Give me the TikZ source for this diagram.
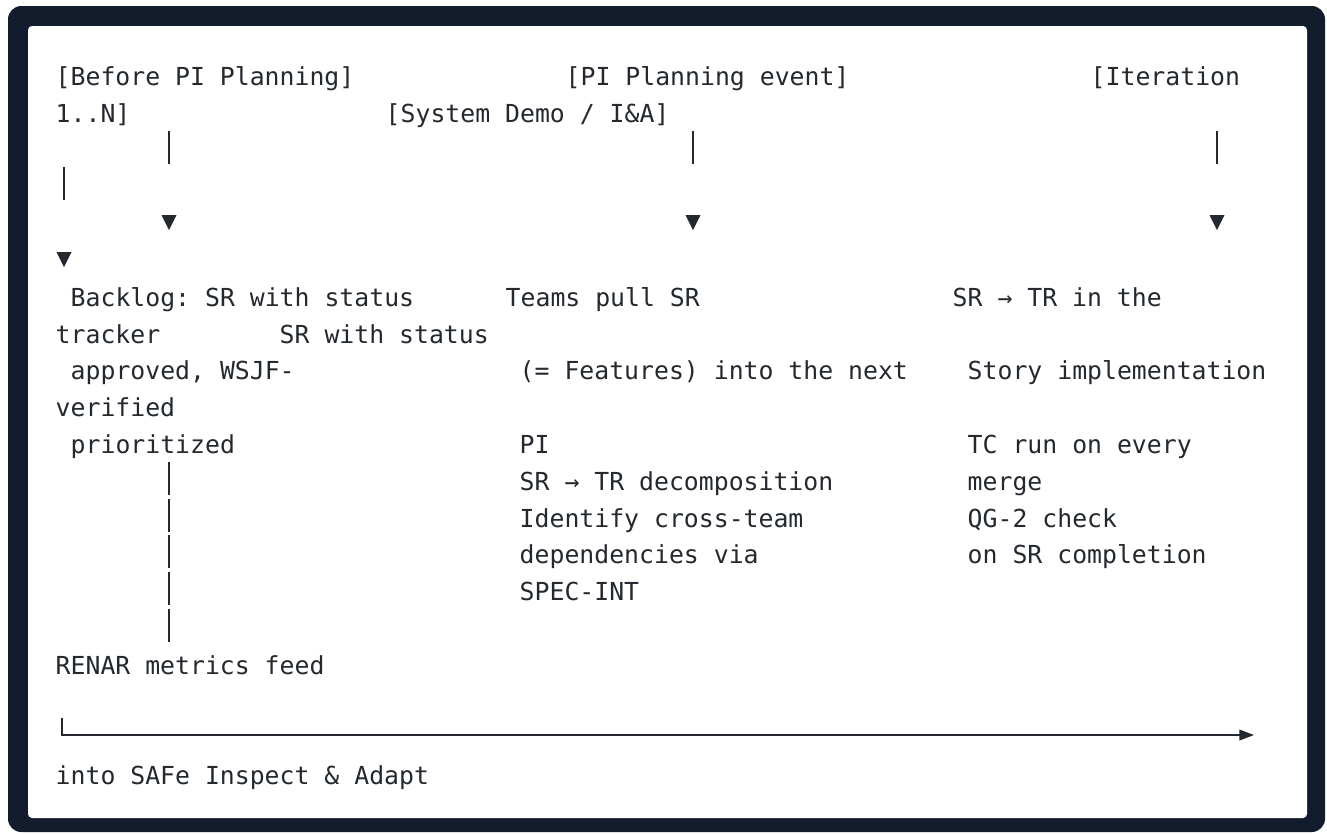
\documentclass[tikz,border=0pt]{standalone}
\usepackage{fontspec}
\setmonofont{DejaVu Sans Mono}
\usetikzlibrary{arrows.meta}

\definecolor{frame}{HTML}{131C2C}
\definecolor{ink}{HTML}{24292F}

\begin{document}
\begin{tikzpicture}[x=0.75pt,y=-0.75pt,line width=1.1pt,
                    >={Triangle[length=11pt,width=8pt]}]
  \tikzstyle{txt}=[anchor=base west,inner sep=0pt,text=ink,
                   font=\ttfamily\fontsize{18.6}{22}\selectfont]
  \tikzstyle{bar}=[draw=ink,line width=1.1pt]

  \useasboundingbox (0,0) rectangle (1327,833);
  \fill[frame,rounded corners=10pt] (8,6) rectangle (1325,832);
  \fill[white,rounded corners=3pt] (28,26) rectangle (1307,818);

  % phase headings
  \node[txt] (before) at (55,85)    {[Before PI Planning]};
  \node[txt] (pip)    at (565,85)   {[PI Planning event]};
  \node[txt] (iter)   at (1090,85)  {[Iteration};
  \node[txt] (itern)  at (55,122)   {1..N]};
  \node[txt] (demo)   at (385,122)  {[System Demo / I\&A]};

  % down strokes and heads
  \foreach \x/\b in {169/158.6, 693/158.6, 1217/158.6, 64/195.4,
                     169/489.8, 169/526.6, 169/563.4, 169/600.2, 169/637}
    \draw[bar] (\x,\b-28) -- (\x,\b+5);
  \foreach \x/\b in {169/232.2, 693/232.2, 1217/232.2, 64/269}
    \fill[ink] (\x-7.5,\b-17) -- (\x+7.5,\b-17) -- (\x,\b-2) -- cycle;

  % backlog column
  \node[txt] (bl1) at (70,306)  {Backlog: SR with status};
  \node[txt] (bl2) at (55,343)  {tracker};
  \node[txt] (bl3) at (279,343) {SR with status};
  \node[txt] (bl4) at (70,379)  {approved, WSJF-};
  \node[txt] (bl5) at (55,416)  {verified};
  \node[txt] (bl6) at (70,453)  {prioritized};

  % planning column
  \node[txt] (pl1) at (505,306) {Teams pull SR};
  \node[txt] (pl2) at (519,379) {(= Features) into the next};
  \node[txt] (pl3) at (519,453) {PI};
  \node[txt] (pl4) at (519,490) {SR → TR decomposition};
  \node[txt] (pl5) at (519,527) {Identify cross-team};
  \node[txt] (pl6) at (519,563) {dependencies via};
  \node[txt] (pl7) at (519,600) {SPEC-INT};

  % iteration column
  \node[txt] (it1) at (952,306) {SR → TR in the};
  \node[txt] (it2) at (967,379) {Story implementation};
  \node[txt] (it3) at (967,453) {TC run on every};
  \node[txt] (it4) at (967,490) {merge};
  \node[txt] (it5) at (967,527) {QG-2 check};
  \node[txt] (it6) at (967,563) {on SR completion};

  % feedback loop
  \node[txt] (renar) at (55,674) {RENAR metrics feed};
  \node[txt] (safe)  at (55,784) {into SAFe Inspect \& Adapt};
  \coordinate (fb) at (62,718);
  \coordinate (fe) at (1254,735);
  \draw[->,ink] (fb) |- (fe);
\end{tikzpicture}
\end{document}
